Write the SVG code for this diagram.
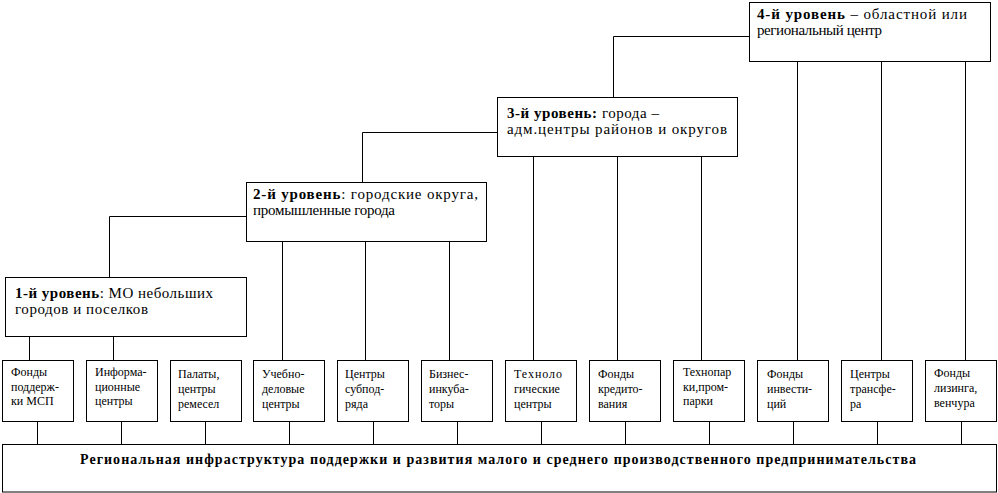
<svg xmlns="http://www.w3.org/2000/svg" width="998" height="493" viewBox="0 0 998 493" font-family="'Liberation Serif', 'DejaVu Serif', serif">
<style>
rect{fill:#fff;stroke:#000;stroke-width:1}
.c path{fill:none;stroke:#000;stroke-width:1}
text{fill:#000}
.s{font-size:12px}
.l{font-size:15px}
.b{font-weight:bold}
</style>
<rect x="0" y="0" width="998" height="493" style="stroke:none"/>
<g class="c" id="connectors">
<path d="M109.5 277.5V216.5H246.5"/>
<path d="M362.5 182.5V132.5H497.5"/>
<path d="M613.5 97.5V36.5H749.5"/>
<path d="M29.5 336.5V360.5M113.5 336.5V360.5"/>
<path d="M282.5 241.5V360.5M365.5 241.5V360.5M449.5 241.5V360.5"/>
<path d="M533.5 156.5V360.5M617.5 156.5V360.5M701.5 156.5V360.5"/>
<path d="M797.5 61.5V360.5M881.5 61.5V360.5M965.5 61.5V360.5"/>
<path d="M37.5 421.5V444.5M121.5 421.5V444.5M205.5 421.5V444.5M289.5 421.5V444.5M373.5 421.5V444.5M457.5 421.5V444.5M541.5 421.5V444.5M625.5 421.5V444.5M709.5 421.5V444.5M793.5 421.5V444.5M877.5 421.5V444.5M961.5 421.5V444.5"/>
</g>
<g id="level1">
<rect x="5.5" y="277.5" width="241" height="59"/>
<text class="l" x="15" y="298" textLength="198" lengthAdjust="spacing"><tspan class="b">1-й уровень</tspan>: МО небольших</text>
<text class="l" x="15" y="313.5" textLength="133" lengthAdjust="spacing">городов и поселков</text>
</g>
<g id="level2">
<rect x="246.5" y="182.5" width="240" height="59"/>
<text class="l" x="253" y="198.5" textLength="225" lengthAdjust="spacing"><tspan class="b">2-й уровень</tspan>: городские округа,</text>
<text class="l" x="253" y="214.5" textLength="142" lengthAdjust="spacing">промышленные города</text>
</g>
<g id="level3">
<rect x="497.5" y="97.5" width="240" height="59"/>
<text class="l" x="507" y="117.5" textLength="152" lengthAdjust="spacing"><tspan class="b">3-й уровень:</tspan> города –</text>
<text class="l" x="507" y="133.5" textLength="220" lengthAdjust="spacing">адм.центры районов и округов</text>
</g>
<g id="level4">
<rect x="749.5" y="2.5" width="241" height="59"/>
<text class="l" x="757" y="19" textLength="210" lengthAdjust="spacing"><tspan class="b">4-й уровень</tspan> – областной или</text>
<text class="l" x="757" y="35" textLength="125" lengthAdjust="spacing">региональный центр</text>
</g>
<g id="box1">
<rect x="2.5" y="360.5" width="71" height="61"/>
<text class="s" x="11" y="376">Фонды</text>
<text class="s" x="11" y="390.5">поддерж-</text>
<text class="s" x="11" y="405">ки МСП</text>
</g>
<g id="box2">
<rect x="86.5" y="360.5" width="71" height="61"/>
<text class="s" x="95" y="376">Информа-</text>
<text class="s" x="95" y="390.5">ционные</text>
<text class="s" x="95" y="405">центры</text>
</g>
<g id="box3">
<rect x="170.5" y="360.5" width="71" height="61"/>
<text class="s" x="178" y="377.5">Палаты,</text>
<text class="s" x="178" y="392.5">центры</text>
<text class="s" x="178" y="407.5">ремесел</text>
</g>
<g id="box4">
<rect x="253.5" y="360.5" width="71" height="61"/>
<text class="s" x="262" y="377.5">Учебно-</text>
<text class="s" x="262" y="392.5">деловые</text>
<text class="s" x="262" y="407.5">центры</text>
</g>
<g id="box5">
<rect x="337.5" y="360.5" width="71" height="61"/>
<text class="s" x="345" y="377.5">Центры</text>
<text class="s" x="345" y="392.5">субпод-</text>
<text class="s" x="345" y="407.5">ряда</text>
</g>
<g id="box6">
<rect x="421.5" y="360.5" width="71" height="61"/>
<text class="s" x="429" y="377.5">Бизнес-</text>
<text class="s" x="429" y="392.5">инкуба-</text>
<text class="s" x="429" y="407.5">торы</text>
</g>
<g id="box7">
<rect x="505.5" y="360.5" width="71" height="61"/>
<text class="s" x="514" y="377.5" textLength="48" lengthAdjust="spacing">Техноло</text>
<text class="s" x="514" y="392.5">гические</text>
<text class="s" x="514" y="407.5">центры</text>
</g>
<g id="box8">
<rect x="589.5" y="360.5" width="71" height="61"/>
<text class="s" x="598" y="377.5">Фонды</text>
<text class="s" x="598" y="392.5">кредито-</text>
<text class="s" x="598" y="407.5">вания</text>
</g>
<g id="box9">
<rect x="673.5" y="360.5" width="71" height="61"/>
<text class="s" x="683" y="376">Технопар</text>
<text class="s" x="683" y="390.5">ки,пром-</text>
<text class="s" x="683" y="405">парки</text>
</g>
<g id="box10">
<rect x="757.5" y="360.5" width="71" height="61"/>
<text class="s" x="767" y="377.5">Фонды</text>
<text class="s" x="767" y="392.5">инвести-</text>
<text class="s" x="767" y="407.5">ций</text>
</g>
<g id="box11">
<rect x="841.5" y="360.5" width="71" height="61"/>
<text class="s" x="850" y="377.5">Центры</text>
<text class="s" x="850" y="392.5">трансфе-</text>
<text class="s" x="850" y="407.5">ра</text>
</g>
<g id="box12">
<rect x="925.5" y="360.5" width="71" height="61"/>
<text class="s" x="934" y="377">Фонды</text>
<text class="s" x="934" y="392">лизинга,</text>
<text class="s" x="934" y="406.5">венчура</text>
</g>
<g id="base">
<rect x="2.5" y="444.5" width="994" height="47.5"/>
<text class="b" x="80" y="464" font-size="14" textLength="836" lengthAdjust="spacing">Региональная инфраструктура поддержки и развития малого и среднего производственного предпринимательства</text>
</g>
</svg>
